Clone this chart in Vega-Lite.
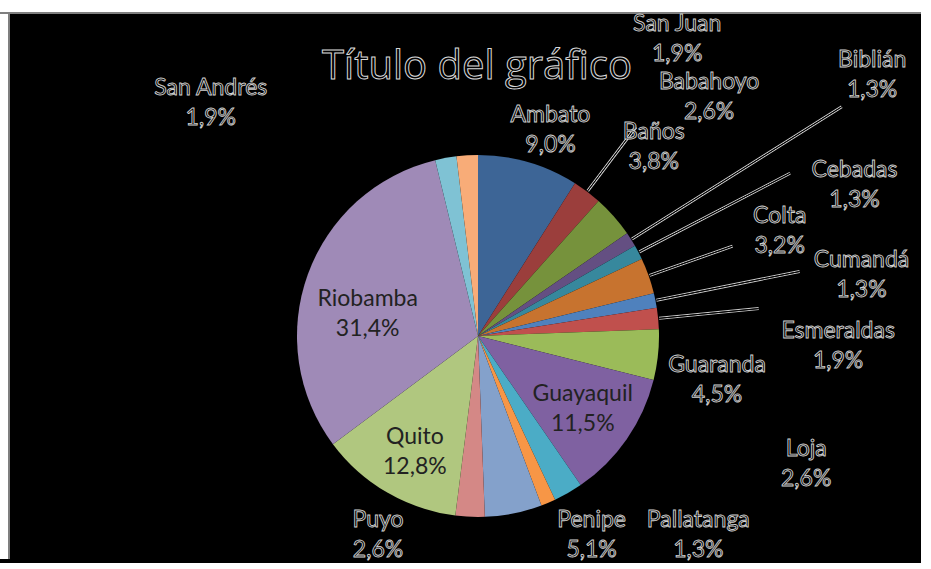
{
  "$schema": "https://vega.github.io/schema/vega-lite/v6.json",
  "background": "black",
  "padding": 0,
  "bounds": "flush",
  "spacing": 0,
  "params": [
    {"name": "nudge", "value": {
      "Ambato": [22, -32], "Babahoyo": [122, -95], "Baños": [40, -69], "Biblián": [241, -164],
      "Cebadas": [216, -67], "Colta": [131, -45], "Cumandá": [206, -25], "Esmeraldas": [180, 28],
      "Guaranda": [59, 25], "Guayaquil": [-44, -30], "Loja": [238, -29], "Pallatanga": [150, 32],
      "Penipe": [78, 22], "Puyo": [-92, 18], "Quito": [28, -40], "Riobamba": [60, 39],
      "San Andrés": [-235, -55], "San Juan": [210, -116]}},
    {"name": "lead", "value": {
      "Babahoyo": 262, "Biblián": 430, "Cebadas": 352, "Colta": 270, "Cumandá": 328, "Esmeraldas": 282}}
  ],
  "datasets": {
    "municipios": [
      {"municipio": "Ambato", "porcentaje": 9.0, "rotulo": "9,0%"},
      {"municipio": "Babahoyo", "porcentaje": 2.6, "rotulo": "2,6%"},
      {"municipio": "Baños", "porcentaje": 3.8, "rotulo": "3,8%"},
      {"municipio": "Biblián", "porcentaje": 1.3, "rotulo": "1,3%"},
      {"municipio": "Cebadas", "porcentaje": 1.3, "rotulo": "1,3%"},
      {"municipio": "Colta", "porcentaje": 3.2, "rotulo": "3,2%"},
      {"municipio": "Cumandá", "porcentaje": 1.3, "rotulo": "1,3%"},
      {"municipio": "Esmeraldas", "porcentaje": 1.9, "rotulo": "1,9%"},
      {"municipio": "Guaranda", "porcentaje": 4.5, "rotulo": "4,5%"},
      {"municipio": "Guayaquil", "porcentaje": 11.5, "rotulo": "11,5%"},
      {"municipio": "Loja", "porcentaje": 2.6, "rotulo": "2,6%"},
      {"municipio": "Pallatanga", "porcentaje": 1.3, "rotulo": "1,3%"},
      {"municipio": "Penipe", "porcentaje": 5.1, "rotulo": "5,1%"},
      {"municipio": "Puyo", "porcentaje": 2.6, "rotulo": "2,6%"},
      {"municipio": "Quito", "porcentaje": 12.8, "rotulo": "12,8%"},
      {"municipio": "Riobamba", "porcentaje": 31.4, "rotulo": "31,4%"},
      {"municipio": "San Andrés", "porcentaje": 1.9, "rotulo": "1,9%"},
      {"municipio": "San Juan", "porcentaje": 1.9, "rotulo": "1,9%"}
    ]
  },
  "config": {"view": {"fill": "black", "stroke": null}, "concat": {"spacing": 0}},
  "vconcat": [
    {"width": 921, "height": 12, "view": {"fill": "white", "stroke": null}, "data": {"values": []}, "mark": "point"},
    {"width": 921, "height": 2, "view": {"fill": "#7f7f7f", "stroke": null}, "data": {"values": []}, "mark": "point"},
    {
      "bounds": "flush",
      "spacing": 0,
      "hconcat": [
        {"width": 8, "height": 545, "view": {"fill": "white", "stroke": null}, "data": {"values": []}, "mark": "point"},
        {"width": 2, "height": 545, "view": {"fill": "#7f7f7f", "stroke": null}, "data": {"values": []}, "mark": "point"},
        {
          "bounds": "flush",
          "spacing": 0,
          "vconcat": [
            {
              "width": 911,
              "height": 99,
              "view": {"fill": "black", "stroke": null},
              "data": {"values": [{}]},
              "mark": {"type": "text", "text": "Título del gráfico", "font": "Open Sans", "fontSize": 40, "fill": "black", "stroke": "#d9d9d9", "strokeWidth": 1, "align": "center", "baseline": "alphabetic", "dx": 11.5, "dy": 15.5},
              "encoding": {}
            },
            {
              "bounds": "flush",
              "spacing": 0,
              "hconcat": [
                {"width": 25, "height": 446, "view": {"fill": "black", "stroke": null}, "data": {"values": []}, "mark": "point"},
                {
                  "width": 886,
                  "height": 446,
                  "view": {"fill": "black", "stroke": null},
                  "data": {"name": "municipios"},
                  "encoding": {
                    "theta": {"field": "porcentaje", "type": "quantitative", "stack": true},
                    "order": {"field": "municipio", "sort": "ascending"},
                    "detail": {"field": "municipio", "type": "nominal"}
                  },
                  "layer": [
                    {
                      "mark": {"type": "arc", "radius": 181},
                      "encoding": {
                        "color": {
                          "field": "municipio", "type": "nominal", "legend": null,
                          "scale": {
                            "domain": ["Ambato", "Babahoyo", "Baños", "Biblián", "Cebadas", "Colta", "Cumandá", "Esmeraldas", "Guaranda", "Guayaquil", "Loja", "Pallatanga", "Penipe", "Puyo", "Quito", "Riobamba", "San Andrés", "San Juan"],
                            "range": ["#3D6596", "#9B3E3C", "#76923C", "#644F82", "#37889D", "#C7732F", "#4F81BD", "#C0504D", "#9BBB59", "#7F61A1", "#4BACC6", "#F79646", "#84A1CB", "#D48886", "#B0C77F", "#9F8AB7", "#7FC2D4", "#F8AC78"]
                          }
                        }
                      }
                    },
                    {
                      "mark": {"type": "arc", "filled": false, "stroke": "#c8c8c8", "strokeWidth": 3, "padAngle": 3, "radius": {"expr": "lead[datum.municipio] || 182"}, "radius2": 182}
                    },
                    {
                      "mark": {"type": "arc", "filled": false, "stroke": "black", "strokeWidth": 1, "padAngle": 3, "radius": {"expr": "lead[datum.municipio] || 182"}, "radius2": 182}
                    },
                    {
                      "mark": {"type": "text", "radius": 181, "font": "Lato", "fontSize": 23, "strokeWidth": 0.9, "align": "center", "baseline": "middle",
                               "dx": {"expr": "nudge[datum.municipio][0]"}, "dy": {"expr": "nudge[datum.municipio][1] - 15"}},
                      "encoding": {
                        "text": {"field": "municipio", "type": "nominal"},
                        "fill": {"condition": {"test": "datum.porcentaje >= 10", "value": "#222222"}, "value": "black"},
                        "stroke": {"condition": {"test": "datum.porcentaje >= 10", "value": "transparent"}, "value": "#d0d0d0"}
                      }
                    },
                    {
                      "mark": {"type": "text", "radius": 181, "font": "Lato", "fontSize": 23, "strokeWidth": 0.9, "align": "center", "baseline": "middle",
                               "dx": {"expr": "nudge[datum.municipio][0]"}, "dy": {"expr": "nudge[datum.municipio][1] + 15"}},
                      "encoding": {
                        "text": {"field": "rotulo", "type": "nominal"},
                        "fill": {"condition": {"test": "datum.porcentaje >= 10", "value": "#222222"}, "value": "black"},
                        "stroke": {"condition": {"test": "datum.porcentaje >= 10", "value": "transparent"}, "value": "#d0d0d0"}
                      }
                    }
                  ]
                }
              ]
            }
          ]
        }
      ]
    }
  ]
}
